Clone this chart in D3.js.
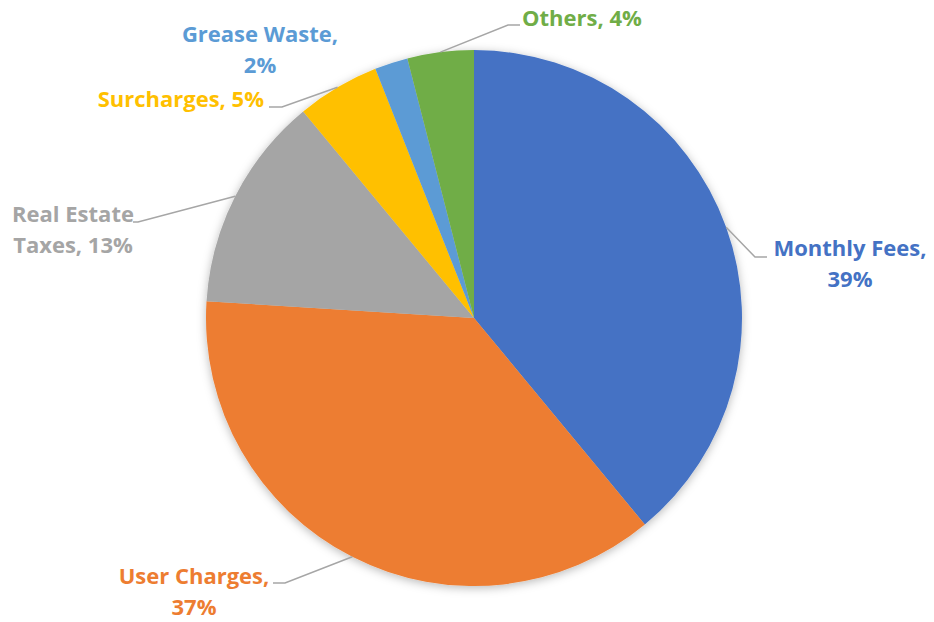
<!DOCTYPE html>
<html>
<head>
<meta charset="utf-8">
<script src="https://cdn.jsdelivr.net/npm/d3@7"></script>
<style>
  body { margin: 0; background: #fff; }
</style>
</head>
<body>
<script>
const width = 934;
const height = 622;

// data
const categories = ["Monthly Fees", "User Charges", "Real Estate Taxes", "Surcharges", "Grease Waste", "Others"];
const values = [39, 37, 13, 5, 2, 4];
const colors = ["#4472C4", "#ED7D31", "#A5A5A5", "#FFC000", "#5B9BD5", "#70AD47"];

// label layout: text lines, anchor, text position, leader elbow/end (null = no leader)
const labelLayout = [
  { lines: ["Monthly Fees,", "39%"], x: 850, y: 256, anchor: "middle", leader: [[755, 257], [767, 257]] },
  { lines: ["User Charges,", "37%"], x: 194, y: 584, anchor: "middle", leader: [[285, 583], [273, 583]] },
  { lines: ["Real Estate", "Taxes, 13%"], x: 73, y: 222, anchor: "middle", leader: [[138, 222], [133, 222]] },
  { lines: ["Surcharges, 5%"], x: 264, y: 107, anchor: "end", leader: [[282, 107], [269, 107]] },
  { lines: ["Grease Waste,", "2%"], x: 260, y: 42, anchor: "middle", leader: null },
  { lines: ["Others, 4%"], x: 522, y: 26, anchor: "start", leader: [[508, 25], [520, 25]] }
];

const cx = 474, cy = 318, radius = 268;

const svg = d3.select("body")
  .append("svg")
  .attr("width", width)
  .attr("height", height);

const defs = svg.append("defs");
const shadow = defs.append("filter")
  .attr("id", "shadow")
  .attr("x", "-20%").attr("y", "-20%")
  .attr("width", "140%").attr("height", "140%");
shadow.append("feDropShadow")
  .attr("dx", 0)
  .attr("dy", 2)
  .attr("stdDeviation", 5)
  .attr("flood-color", "#000")
  .attr("flood-opacity", 0.28);

const g = svg.append("g")
  .attr("transform", `translate(${cx},${cy})`);

const pie = d3.pie().sort(null).value(d => d.value);
const data = categories.map((c, i) => ({ name: c, value: values[i], color: colors[i] }));
const arcs = pie(data);

const arc = d3.arc().innerRadius(0).outerRadius(radius);
const edge = d3.arc().innerRadius(radius).outerRadius(radius);

g.append("g")
  .attr("filter", "url(#shadow)")
  .selectAll("path")
  .data(arcs)
  .join("path")
  .attr("d", arc)
  .attr("fill", d => d.data.color);

// leader lines
arcs.forEach((a, i) => {
  const lay = labelLayout[i];
  if (!lay.leader) return;
  const [sx, sy] = edge.centroid(a);
  const pts = [[sx + cx, sy + cy]].concat(lay.leader);
  svg.append("path")
    .attr("d", d3.line()(pts))
    .attr("fill", "none")
    .attr("stroke", "#A6A6A6")
    .attr("stroke-width", 1.5);
});

// labels
arcs.forEach((a, i) => {
  const lay = labelLayout[i];
  const t = svg.append("text")
    .attr("x", lay.x)
    .attr("y", lay.y)
    .attr("text-anchor", lay.anchor)
    .attr("font-family", "'Open Sans', sans-serif")
    .attr("font-weight", "bold")
    .attr("font-size", "22px")
    .attr("fill", a.data.color);
  lay.lines.forEach((line, j) => {
    t.append("tspan")
      .attr("x", lay.x)
      .attr("dy", j === 0 ? 0 : 31)
      .text(line);
  });
});
</script>
</body>
</html>
